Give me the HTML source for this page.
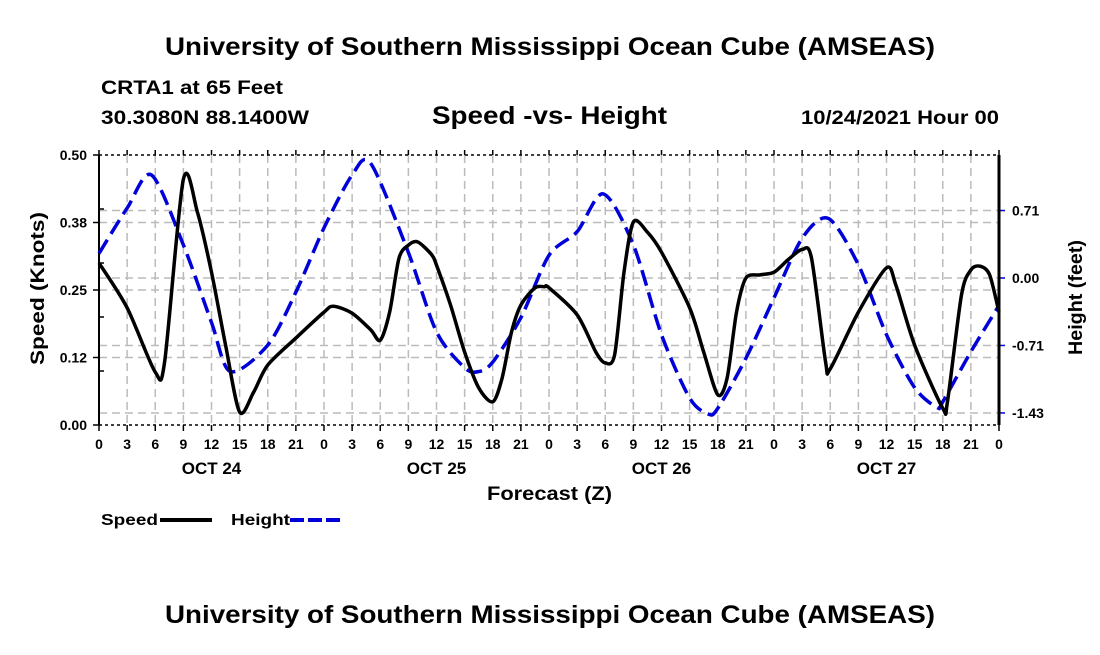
<!DOCTYPE html>
<html><head><meta charset="utf-8"><style>
body{margin:0;background:#fff;width:1100px;height:650px;overflow:hidden;font-family:"Liberation Sans",sans-serif}
svg text{font-family:"Liberation Sans",sans-serif;font-weight:bold;fill:#000}
</style></head><body>
<svg id="chart" width="1100" height="650" xmlns="http://www.w3.org/2000/svg">
<text x="165" y="55" font-size="25" textLength="770" lengthAdjust="spacingAndGlyphs">University of Southern Mississippi Ocean Cube (AMSEAS)</text>
<text x="101" y="94" font-size="19" textLength="182" lengthAdjust="spacingAndGlyphs">CRTA1 at 65 Feet</text>
<text x="101" y="124" font-size="19" textLength="208" lengthAdjust="spacingAndGlyphs">30.3080N  88.1400W</text>
<text x="432" y="124" font-size="25" textLength="235" lengthAdjust="spacingAndGlyphs">Speed -vs- Height</text>
<text x="801" y="124" font-size="19" textLength="198" lengthAdjust="spacingAndGlyphs">10/24/2021 Hour 00</text>
<text x="165" y="623" font-size="25" textLength="770" lengthAdjust="spacingAndGlyphs">University of Southern Mississippi Ocean Cube (AMSEAS)</text>
<g id="grid"></g><g id="axes"></g><g id="series"></g>
<text x="487" y="500" font-size="19" textLength="125" lengthAdjust="spacingAndGlyphs">Forecast (Z)</text>
<text transform="translate(44,365) rotate(-90)" font-size="19" textLength="153" lengthAdjust="spacingAndGlyphs">Speed (Knots)</text>
<text transform="translate(1082,355) rotate(-90)" font-size="19" textLength="115" lengthAdjust="spacingAndGlyphs">Height (feet)</text>
<g><text x="101" y="525" font-size="16" textLength="57" lengthAdjust="spacingAndGlyphs">Speed</text><line x1="160" y1="520" x2="212" y2="520" stroke="#000" stroke-width="4"/></g>
<g><text x="231" y="525" font-size="16" textLength="59" lengthAdjust="spacingAndGlyphs">Height</text><line x1="290" y1="520" x2="342" y2="520" stroke="#0000d8" stroke-width="4" stroke-dasharray="14,4"/></g>
</svg>
<script>
const speedHours=[0,3,6,7,9,10.5,12,13.5,15,16.5,18,21,24,25,27,29,30,31,32,33,34,35.5,36,37.5,39,40.5,42,43,44,45,46.5,47.5,48,51,53,54,55,56,57,58.5,60,63,64.5,66,67,68,69,70.5,72,73.5,75,76,77.5,78,81,84,85,87,90,90.5,92,93,94,95,96];
const speedValues=[0.300,0.217,0.098,0.117,0.455,0.394,0.283,0.148,0.024,0.061,0.111,0.161,0.209,0.220,0.207,0.176,0.157,0.209,0.309,0.333,0.339,0.315,0.296,0.222,0.135,0.069,0.043,0.087,0.172,0.222,0.254,0.256,0.254,0.204,0.135,0.115,0.130,0.283,0.376,0.357,0.320,0.217,0.135,0.056,0.087,0.209,0.272,0.278,0.283,0.306,0.325,0.309,0.117,0.104,0.209,0.291,0.259,0.148,0.031,0.043,0.241,0.287,0.294,0.278,0.209];
const heightHours=[0,3,5.6,9,12,14,18,21,24,27,29,33,36,39,40.5,42,45,48,51,53.8,57,60,63,65,66,69,72,75,77.8,81,84,87,89.4,90,93,96];
const heightValues=[0.26,0.74,1.09,0.35,-0.47,-0.99,-0.71,-0.15,0.53,1.09,1.21,0.27,-0.57,-0.95,-0.99,-0.89,-0.42,0.24,0.49,0.89,0.35,-0.60,-1.27,-1.44,-1.38,-0.85,-0.21,0.42,0.63,0.14,-0.60,-1.16,-1.37,-1.31,-0.78,-0.29];
const xTicks=[0,3,6,9,12,15,18,21,0,3,6,9,12,15,18,21,0,3,6,9,12,15,18,21,0,3,6,9,12,15,18,21,0];
const dayLabels=["OCT 24","OCT 25","OCT 26","OCT 27"];
const leftTicks=[0,0.125,0.25,0.375,0.5];
const leftLabels=["0.00","0.12","0.25","0.38","0.50"];
const rightTicks=[0.714,0,-0.714,-1.428];
const rightLabels=["0.71","0.00","-0.71","-1.43"];
const X0=99,X1=999,Y0=425,Y1=155;
const xs=h=>X0+h*(X1-X0)/96;
const ysL=v=>Y0-v*(Y0-Y1)/0.5;
const ysR=v=>278-v*94.5;
const NS="http://www.w3.org/2000/svg";
function mk(parent,tag,attrs){const e=document.createElementNS(NS,tag);for(const k in attrs)e.setAttribute(k,attrs[k]);document.getElementById(parent).appendChild(e);return e;}
function path(pts){let d=`M${pts[0][0]},${pts[0][1]}`;for(let i=0;i<pts.length-1;i++){const p0=pts[Math.max(0,i-1)],p1=pts[i],p2=pts[i+1],p3=pts[Math.min(pts.length-1,i+2)];const c1=[p1[0]+(p2[0]-p0[0])/7,p1[1]+(p2[1]-p0[1])/7],c2=[p2[0]-(p3[0]-p1[0])/7,p2[1]-(p3[1]-p1[1])/7];d+=` C${c1[0]},${c1[1]} ${c2[0]},${c2[1]} ${p2[0]},${p2[1]}`;}return d;}
xTicks.forEach((t,i)=>{const x=xs(i*3);
 const g=mk('grid','line',{x1:x,y1:Y1,x2:x,y2:Y0,stroke:'#bbb','stroke-width':1.5,'stroke-dasharray':'8,5'});
 
 
 const tk=mk('axes','line',{x1:x,y1:Y0,x2:x,y2:Y0+6,stroke:'#000','stroke-width':1.5});
 
 
 const tk2=mk('axes','line',{x1:x,y1:Y1,x2:x,y2:Y1-5,stroke:'#000','stroke-width':1.5});
 
 
 const lb=mk('axes','text',{x:x,y:Y0+24,'font-size':14,'text-anchor':'middle'});lb.textContent=t;
 
 
});
dayLabels.forEach((d,i)=>{const lb=mk('axes','text',{x:xs(12+24*i),y:Y0+49,'font-size':17,'text-anchor':'middle'});lb.textContent=d;
 
 });
leftTicks.forEach((v,i)=>{const y=ysL(v);
 if(i>0&&i<4){const g=mk('grid','line',{x1:X0,y1:y,x2:X1,y2:y,stroke:'#bbb','stroke-width':1.5,'stroke-dasharray':'8,5'});
 
 }
 const tk=mk('axes','line',{x1:X0-6,y1:y,x2:X0,y2:y,stroke:'#000','stroke-width':1.5});
 
 
 const lb=mk('axes','text',{x:X0-12,y:y+5,'font-size':14,'text-anchor':'end'});lb.textContent=leftLabels[i];
 
 });
[0.1,0.2,0.3,0.4].forEach(v=>{const tk=mk('axes','line',{x1:X0,y1:ysL(v),x2:X0+5,y2:ysL(v),stroke:'#000','stroke-width':1.5});
 
 });
rightTicks.forEach((v,i)=>{const y=ysR(v);
 const g=mk('grid','line',{x1:X0,y1:y,x2:X1,y2:y,stroke:'#bbb','stroke-width':1.5,'stroke-dasharray':'8,5'});
 
 
 const tk=mk('axes','line',{x1:X1,y1:y,x2:X1+6,y2:y,stroke:'#0000d8','stroke-width':1.5});
 
 
 const lb=mk('axes','text',{x:X1+13,y:y+5,'font-size':14});lb.textContent=rightLabels[i];
 
 });
[[X0,Y1,X1,Y1,'#000',1.5,'3,3'],[X0,Y0,X1,Y0,'#000',1.5,'3,3'],[X0,Y1,X0,Y0,'#000',2,''],[X1,Y1,X1,Y0,'#000',3,'']].forEach(a=>{
 const l=mk('axes','line',{x1:a[0],y1:a[1],x2:a[2],y2:a[3],stroke:a[4],'stroke-width':a[5],'stroke-dasharray':a[6]});
 
 });
const hp=mk('series','path',{d:path(heightHours.map((h,i)=>[xs(h),ysR(heightValues[i])])),fill:'none',stroke:'#0000d8','stroke-width':3.5,'stroke-dasharray':'16,7'});


const sp=mk('series','path',{d:path(speedHours.map((h,i)=>[xs(h),ysL(speedValues[i])])),fill:'none',stroke:'#000','stroke-width':3.5,'stroke-linejoin':'round'});


</script>
</body></html>
